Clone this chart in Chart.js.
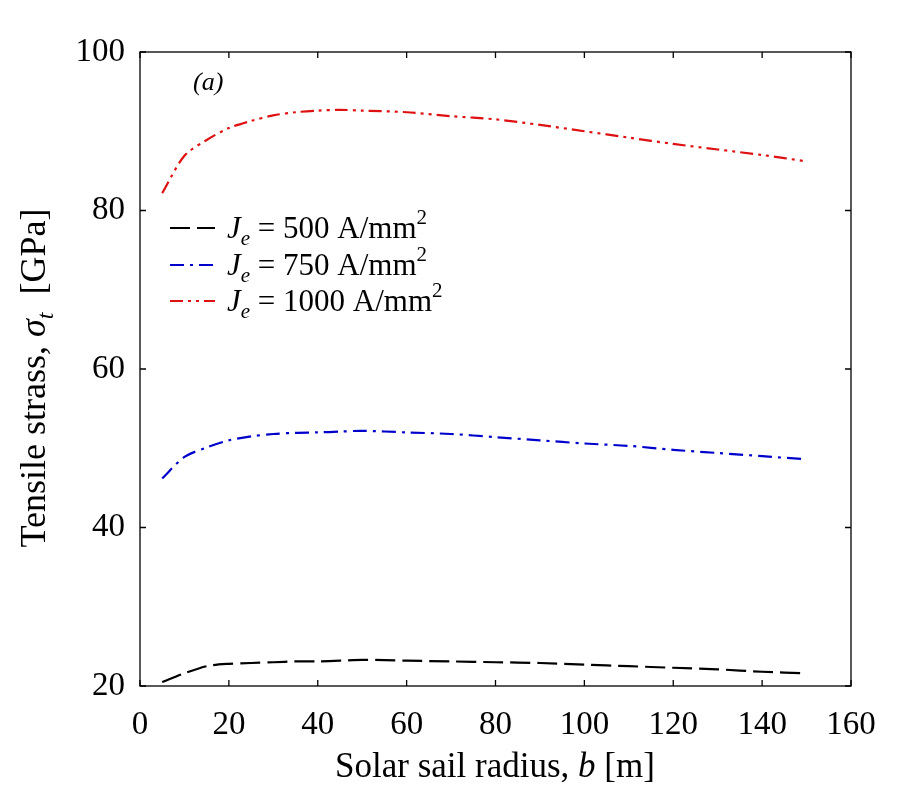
<!DOCTYPE html>
<html><head><meta charset="utf-8">
<script src="https://cdn.jsdelivr.net/npm/chart.js@4.4.0/dist/chart.umd.min.js"></script>
<style>html,body{margin:0;padding:0;background:#fff}#wrap{width:903px;height:798px}</style>
</head><body><div id="wrap"><canvas id="c" width="903" height="798"></canvas></div>
<script>
const radius = [5,10,15,20,25,30,35,40,45,50,60,70,80,90,100,110,120,130,140,150];
const sigma500 = [20.5,21.6,22.5,22.8,22.9,23.0,23.1,23.1,23.2,23.3,23.2,23.1,23.0,22.9,22.7,22.5,22.3,22.1,21.8,21.6];
const sigma750 = [46.2,48.9,50.1,51.0,51.5,51.8,51.95,52.0,52.1,52.2,52.0,51.8,51.4,51.0,50.6,50.3,49.8,49.4,49.0,48.6];
const sigma1000 = [82.2,86.9,88.9,90.4,91.3,92.0,92.4,92.6,92.7,92.6,92.4,91.9,91.5,90.8,90.0,89.2,88.4,87.7,87.0,86.2];
const seriesLabels = ["500","750","1000"];
const xTicks = [0,20,40,60,80,100,120,140,160];
const yTicks = [20,40,60,80,100];

const colors = ["#000000","#0000cc","#dd1111"];
const dashes = [[20,7],[14,6,3,6],[13,5,3,5,3,5]];
const serif = "'Liberation Serif','Times New Roman',serif";

function pts(ys){ return radius.map((x,i)=>({x:x,y:ys[i]})); }

const decor = {
  id:'decor',
  afterDraw(chart){
    const ctx = chart.ctx, a = chart.chartArea;
    const xs = chart.scales.x, ys = chart.scales.y;
    ctx.save();
    ctx.strokeStyle = '#000'; ctx.lineWidth = 1.3;
    ctx.strokeRect(a.left, a.top, a.right-a.left, a.bottom-a.top);
    const tl = 6;
    ctx.beginPath();
    xTicks.forEach(v=>{ const p = xs.getPixelForValue(v);
      ctx.moveTo(p,a.bottom); ctx.lineTo(p,a.bottom-tl);
      ctx.moveTo(p,a.top); ctx.lineTo(p,a.top+tl); });
    yTicks.forEach(v=>{ const p = ys.getPixelForValue(v);
      ctx.moveTo(a.left,p); ctx.lineTo(a.left+tl,p);
      ctx.moveTo(a.right,p); ctx.lineTo(a.right-tl,p); });
    ctx.stroke();

    // (a)
    ctx.fillStyle = '#000';
    ctx.font = "italic 26px " + serif;
    ctx.textBaseline = 'alphabetic';
    ctx.fillText('(a)', a.left + 53, a.top + 38);

    // legend
    const lx0 = a.left + 30, lx1 = a.left + 75, tx = a.left + 87;
    const rowY = [228, 265, 301];
    seriesLabels.forEach((lab,i)=>{
      const y = rowY[i];
      ctx.save();
      ctx.strokeStyle = colors[i]; ctx.lineWidth = 2; ctx.setLineDash(dashes[i]);
      ctx.beginPath(); ctx.moveTo(lx0,y); ctx.lineTo(lx1,y); ctx.stroke();
      ctx.restore();
      let x = tx; const base = y + 10;
      ctx.font = "italic 31px " + serif; ctx.fillText('J', x, base); x += ctx.measureText('J').width;
      ctx.font = "italic 21px " + serif; ctx.fillText('e', x, base + 7); x += ctx.measureText('e').width;
      ctx.font = "31px " + serif;
      const s = ' = ' + lab + ' A/mm';
      ctx.fillText(s, x, base); x += ctx.measureText(s).width;
      ctx.font = "21px " + serif; ctx.fillText('2', x, base - 14);
    });

    // x title
    const p1 = 'Solar sail radius, ', p2 = 'b', p3 = ' [m]';
    ctx.font = "35px " + serif; const w1 = ctx.measureText(p1).width, w3 = ctx.measureText(p3).width;
    ctx.font = "italic 35px " + serif; const w2 = ctx.measureText(p2).width;
    let x = 335; const yb = 777;
    ctx.font = "35px " + serif; ctx.fillText(p1, x, yb); x += w1;
    ctx.font = "italic 35px " + serif; ctx.fillText(p2, x, yb); x += w2;
    ctx.font = "35px " + serif; ctx.fillText(p3, x, yb);

    // y title
    ctx.save();
    ctx.translate(45, 378);
    ctx.rotate(-Math.PI/2);
    const q1 = 'Tensile strass, ', q2 = 'σ', q3 = 't', q4 = '  [GPa]';
    ctx.font = "36px " + serif; const v1 = ctx.measureText(q1).width, v4 = ctx.measureText(q4).width;
    ctx.font = "italic 36px " + serif; const v2 = ctx.measureText(q2).width;
    ctx.font = "italic 24px " + serif; const v3 = ctx.measureText(q3).width;
    let yx = -(v1+v2+v3+v4)/2;
    ctx.font = "36px " + serif; ctx.fillText(q1, yx, 0); yx += v1;
    ctx.font = "italic 36px " + serif; ctx.fillText(q2, yx, 0); yx += v2;
    ctx.font = "italic 24px " + serif; ctx.fillText(q3, yx, 8); yx += v3;
    ctx.font = "36px " + serif; ctx.fillText(q4, yx, 0);
    ctx.restore();
    ctx.restore();
  }
};

new Chart(document.getElementById('c'), {
  type:'line',
  data:{ datasets:[
    {label:'Je = 500 A/mm2', data:pts(sigma500), borderColor:colors[0], borderDash:dashes[0], borderWidth:2.2, pointRadius:0, tension:0.3, fill:false},
    {label:'Je = 750 A/mm2', data:pts(sigma750), borderColor:colors[1], borderDash:dashes[1], borderWidth:2.2, pointRadius:0, tension:0.3, fill:false},
    {label:'Je = 1000 A/mm2', data:pts(sigma1000), borderColor:colors[2], borderDash:dashes[2], borderWidth:2.2, pointRadius:0, tension:0.3, fill:false}
  ]},
  options:{
    responsive:false, animation:false, devicePixelRatio:1,
    layout:{padding:{top:52,right:52,left:0,bottom:0}},
    plugins:{legend:{display:false}, tooltip:{enabled:false}},
    scales:{
      x:{type:'linear', min:0, max:160,
        afterFit(s){ s.height = 112; },
        afterBuildTicks(s){ s.ticks = xTicks.map(v=>({value:v})); },
        grid:{display:false, drawTicks:false}, border:{display:false},
        ticks:{color:'#000', padding:20, maxRotation:0, font:{family:"'Liberation Serif'", size:33}}},
      y:{type:'linear', min:20, max:100,
        afterFit(s){ s.width = 140; },
        afterBuildTicks(s){ s.ticks = yTicks.map(v=>({value:v})); },
        grid:{display:false, drawTicks:false}, border:{display:false},
        ticks:{color:'#000', padding:15, font:{family:"'Liberation Serif'", size:33}}}
    }
  },
  plugins:[decor]
});
</script></body></html>
